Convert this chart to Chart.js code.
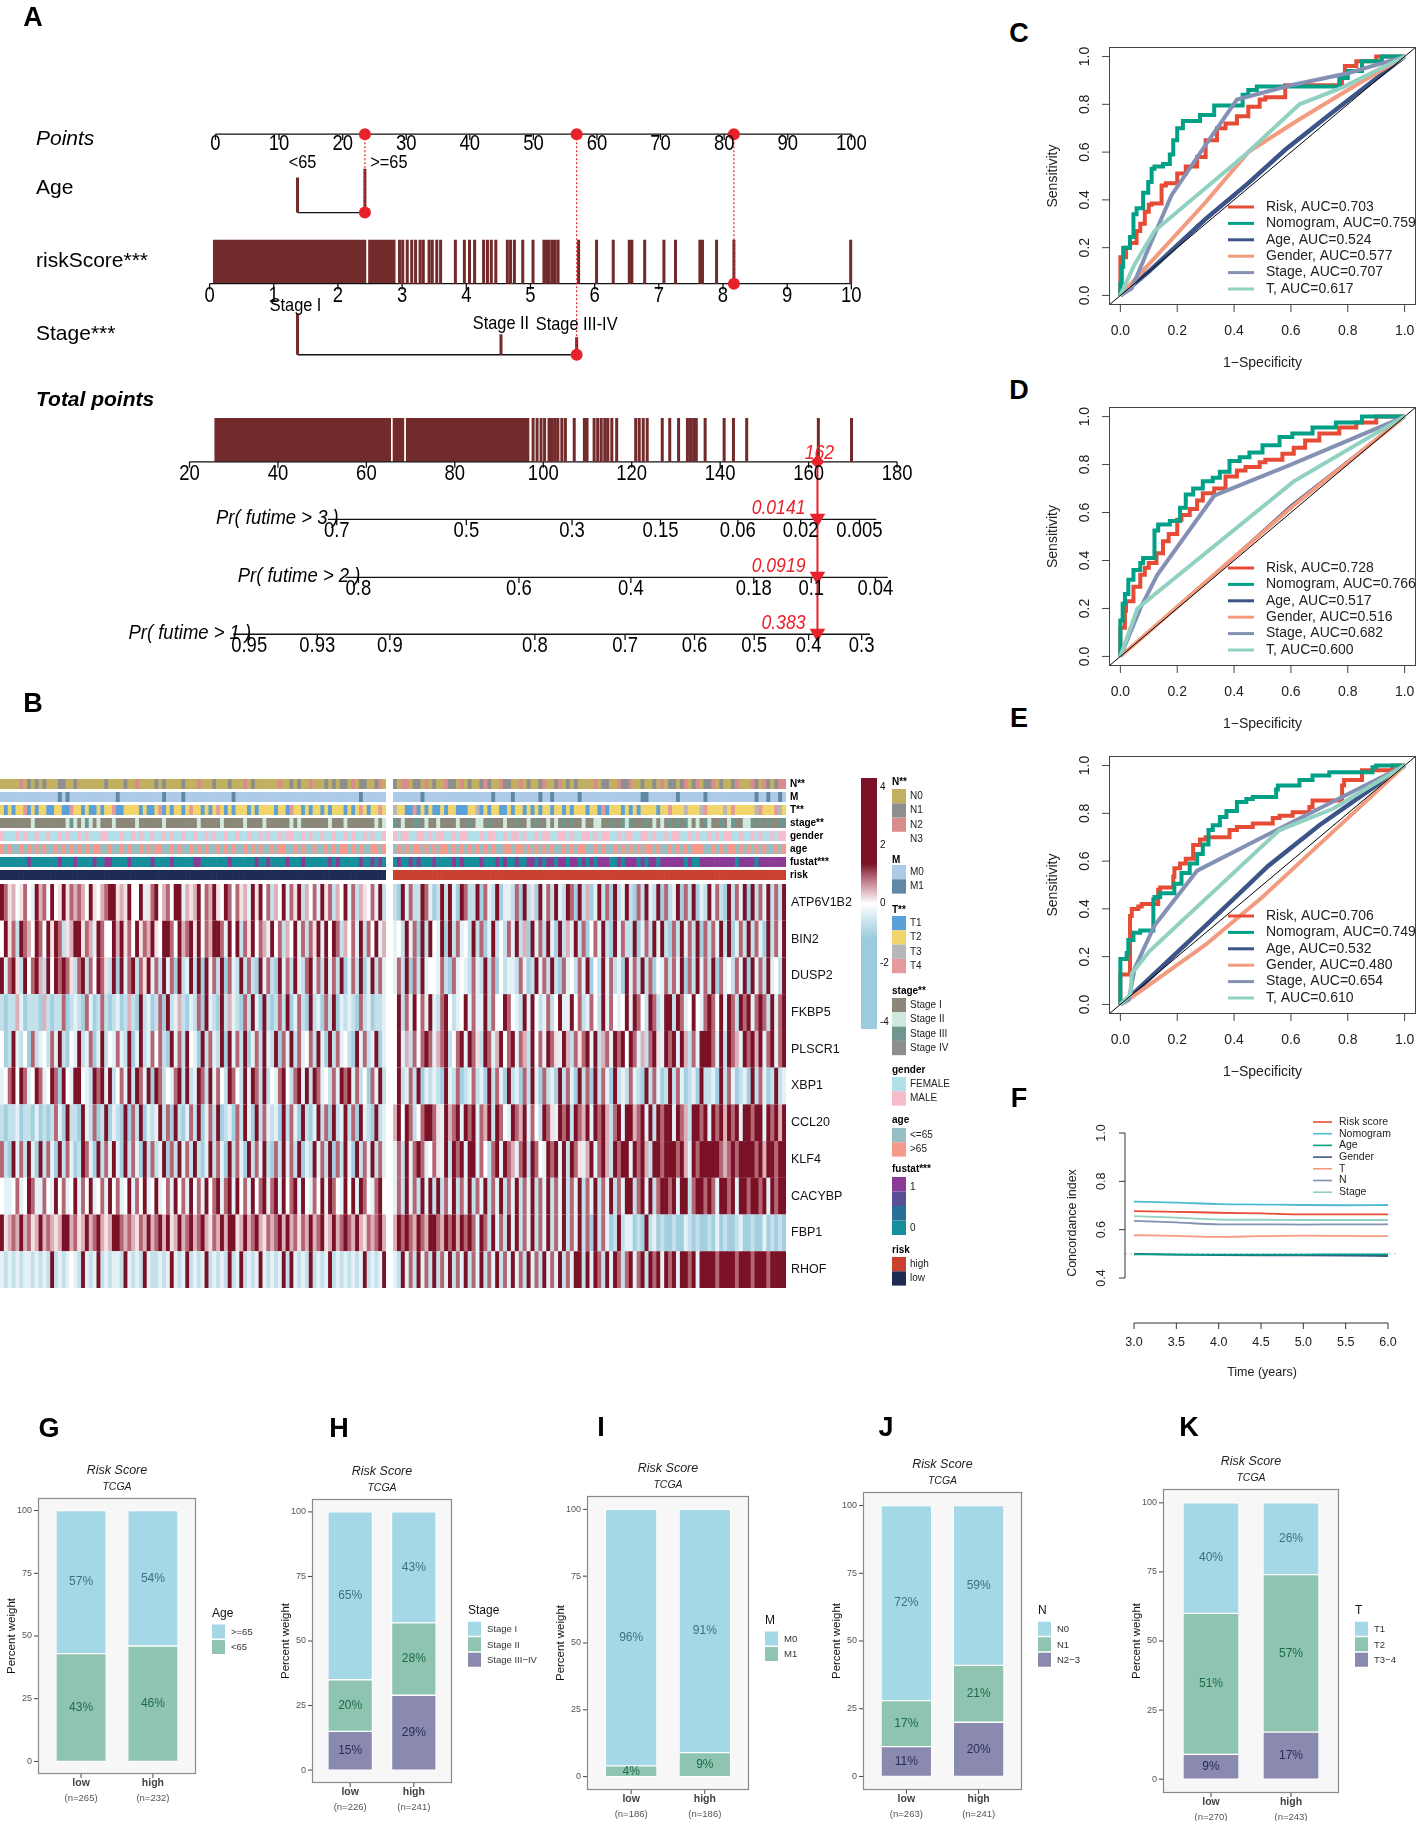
<!DOCTYPE html>
<html>
<head>
<meta charset="utf-8">
<title>Nomogram, risk heatmap, ROC and clinical composition</title>
<script src="https://cdn.jsdelivr.net/npm/chart.js@4.4.1/dist/chart.umd.min.js"></script>
<style>
  html, body { margin: 0; padding: 0; background: #fff; }
  #page { position: relative; width: 1417px; height: 1821px; overflow: hidden; background: #fff; }
  #page canvas { position: absolute; }
  .panel-letter { position: absolute; font: bold 27px "Liberation Sans", Arial, sans-serif; color: #000; transform: translate(-50%, -50%); }
</style>
</head>
<body>
<div id="page"></div>
<script>
// ── PANEL A : NOMOGRAM DATA ─────────────────────────
const pointsTicks = [0, 10, 20, 30, 40, 50, 60, 70, 80, 90, 100];
const ageLabels = ["<65", ">=65"];
const agePoints = [12.9, 23.5];
const riskScoreTicks = [0, 1, 2, 3, 4, 5, 6, 7, 8, 9, 10];
const riskScoreDense = [[0.05, 2.445], [2.47, 2.90]];
const riskScoreMarks = [2.96, 3.01, 3.08, 3.15, 3.21, 3.28, 3.33, 3.42, 3.47, 3.54, 3.60, 3.83, 3.97, 4.05, 4.13, 4.27, 4.33, 4.39, 4.46, 4.64, 4.69, 4.75, 4.88, 5.04, 5.21, 5.25, 5.29, 5.34, 5.38, 5.43, 5.75, 6.03, 6.29, 6.54, 6.58, 6.78, 7.08, 7.26, 7.64, 7.68, 7.90, 8.17, 9.99];
const stageLabels = ["Stage I", "Stage II", "Stage III-IV"];
const stagePoints = [12.9, 44.9, 56.8];
const totalTicks = [20, 40, 60, 80, 100, 120, 140, 160, 180];
const totalDense = [[25.6, 65.6], [65.9, 68.6], [68.9, 96.9]];
const totalMarks = [97.7, 98.6, 99.5, 100.3, 101.3, 101.9, 102.6, 103.3, 104.2, 105.0, 107.0, 109.3, 109.9, 111.5, 112.3, 113.1, 113.9, 114.6, 115.5, 116.6, 120.9, 121.7, 122.6, 123.5, 126.9, 128.6, 130.6, 132.6, 133.3, 134.0, 134.6, 136.6, 140.9, 143.0, 146.0, 162.2, 169.7];
const pr3Labels = ["0.7", "0.5", "0.3", "0.15", "0.06", "0.02", "0.005"];
const pr3Total = [53.3, 82.6, 106.5, 126.5, 144.0, 158.2, 171.5];
const pr3Range = [51.3, 175.3];
const pr2Labels = ["0.8", "0.6", "0.4", "0.18", "0.1", "0.04"];
const pr2Total = [58.2, 94.5, 119.8, 147.6, 160.6, 175.1];
const pr2Range = [55.3, 177.9];
const pr1Labels = ["0.95", "0.93", "0.9", "0.8", "0.7", "0.6", "0.5", "0.4", "0.3"];
const pr1Total = [33.5, 48.9, 65.3, 98.1, 118.5, 134.2, 147.7, 160.0, 172.0];
const pr1Range = [29.9, 173.9];
const prTitles = ["Pr( futime > 3 )", "Pr( futime > 2 )", "Pr( futime > 1 )"];
const patientAge = 1;
const patientRiskScore = 8.17;
const patientStage = 2;
const patientTotal = 162;
const patientPr = ["0.0141", "0.0919", "0.383"];

// ── PANEL B : HEATMAP DATA (0 = deep blue ... 4 = white ... 8 = dark red) ──
const genes = ["ATP6V1B2", "BIN2", "DUSP2", "FKBP5", "PLSCR1", "XBP1", "CCL20", "KLF4", "CACYBP", "FBP1", "RHOF"];
const exprLow = [
  ["8756457438","6748458576","7648546788","5658448357","8467488365","6847685487","4756385847","2648375826","4738572648","3726547382"],
  ["4857287648","7485872568","8576387448","6857485768","5488748678","5847688738","4827584763","8472648372","7583848726","4738274836"],
  ["8378528478","6284878752","7827487528","1837827583","7283718238","2818372817","3282721837","2183728327","8372837281","3728138273"],
  ["2122631222","1621227123","2173127212","3126218231","2718236213","2718321826","3217283182","1272813721","8231728132","3217231223"],
  ["4128324172","3427382143","8237138243","7328138237","4721837284","3182732818","3728137283","2817382734","7283182734","2183723813"],
  ["3478487348","7348718438","8432878382","4738287381","8724378282","3872837428","7428387282","4378427838","2873427387","8372417382"],
  ["2122312213","1212731822","1832712813","2181728132","3827182137","2813728123","1728318273","2318273182","1382718238","2718321823"],
  ["7218372831","8273182731","2873182738","3182731827","2381728372","8213827318","2731827382","1728372813","2837281728","3182738273"],
  ["4334734873","3743847348","3748347384","7348374834","8347384738","4738478378","3847384783","7838478384","3748387438","4838743784"],
  ["8567686756","8676568867","5686786568","8767657686","7868568678","6786576868","8568678657","6786867576","8678568678","7686576786"],
  ["3232323323","2328232343","2832382323","3283232832","2323832382","3238232328","2382323832","3238283232","8232382323","2323823238"]
].map(r => r.join(""));
const exprHigh = [
  ["2183722873","1282831872","2817328133","2718251837","2832871826","1382718238","2172832817","2381728132","8372182738","1827382728"],
  ["3428371828","4381827342","8271382427","3826183728","3182638271","4738218372","2813728382","1728372817","2738281372","8273182738"],
  ["3728172834","4372173432","7328271423","3273128372","8217342738","1428372318","3728271437","2738172837","2817342738","1837283428"],
  ["4827384738","3278423483","7338274487","4328384237","2483384723","7428374348","3874287238","8287348437","8748387287","8378728378"],
  ["4836274787","3678247838","7528736847","8376284738","7538627578","3826738784","8736278538","7838627388","8738287638","7868378378"],
  ["4823728132","3218327123","7231827318","2317283172","3182731827","1827318232","7321827312","8273123182","2318273123","1827312823"],
  ["6848724788","7538678387","8376828743","8768374287","5387828768","3878627838","8678382878","8387628878","3878687838","8788387868"],
  ["3728378734","7538287838","8374278387","6378287438","7838287536","8378628788","3878628878","8878638788","8887678788","8878688788"],
  ["3728372838","2827382738","2738273827","3827382738","2738273827","3827382738","8278382788","7838827887","8738878388","7887838788"],
  ["6878768768","8768786878","7387283728","3827382738","2738273827","1827312823","3121823121","1211321211","2131211231","1211312121"],
  ["3283728372","8273827382","7382738273","8372837283","7382738828","3872838727","8378287838","7838878388","8878888788","8788878888"]
].map(r => r.join(""));
const annN = [
  ["0000020101","0100011001","0000000100","0010020000","1010000100","0200010001","0002010000","0020010100","2000101011","0201100120"],
  ["1022011020","1002110201","0012100211","0020100120","0120101000","0201100211","2001001020","1101201201","1201001200","0210210122"]
].map(r => r.join(""));
const annM = [
  ["0000000000","0000010100","0000000000","1000000000","0010000100","0000000000","1000000000","0000000000","0000000000","0001000000"],
  ["0000000100","0000000000","0000010000","1000000100","1000000100","0000000000","0001100000","0010000001","0000000000","0010010010"]
].map(r => r.join(""));
const annT = [
  ["2121224121","2211221142","2121121224","1122221211","2412122124","2212124212","1222121222","2122142212","1221212221","2124212242"],
  ["3221141212","1121221112","2312122112","1221212122","1221212221","2214122212","1212222122","4222322234","2222324222","2234222432"]
].map(r => r.join(""));
const annStage = [
  ["1111111121","1111111232","1232121112","1111121111","1121111111","1211111211","1112111121","1111121211","1111121112","1111111212"],
  ["3121133121","1211112113","1221311121","1311213112","1213131121","1221131132","3111312121","3131321213","2113123112","2313131133"]
].map(r => r.join(""));
const annGender = [
  ["MFFFMFMFFM","FFMFFMFMFF","MFMFFFMMFF","FMFFMFMFFM","FFMFMFFMFF","MFFMFMFFMF","FMFFMFFMFM","FFMFMMFFMF","MFFMFFMFFM","FMFFMFMFFM"],
  ["MFMMFFMMFM","FMMFFMFMMF","FFMFMMFFMF","MMFMFFMFMM","FFMMFMFFMM","FMFMMFFMFM","MFFMMFMFFM","FMMFFMFMFF","MFMFMMFFMF","FMFMFFMFMM"]
].map(r => r.join(""));
const annAge = [
  ["OYOYYOYOYO","YOYYOYOYOY","OYOYOOYYOY","YOYOYYOYOY","OOYYOYOYYO","YOYOYYOYOY","OYYOYOYOYY","OYOOYYOYOY","YOYYOYOYOO","YOYOYYOOYO"],
  ["YOYOYOOYOY","OYOOYOYOYO","YOYOYOYYOO","YOOYOYOYOY","OYYOYOYOOY","YOYOYYOYOY","OYOYOOYOYY","OYOYOYOOOY","YOYOYOOYOY","OYOYOYYOYO"]
].map(r => r.join(""));
const annFustat = [
  ["0000000100","0000010001","0000100110","0001000001","0000100000","1100000001","0000001001","0000100010","0000010100","0001001010"],
  ["0100101000","1000010100","0010001010","0100110101","1011011010","1011100101","1101011011","1111010011","1111111011","1101111111"]
].map(r => r.join(""));

// ── PANELS C-E : ROC DATA ([1-specificity, sensitivity]) ──
const rocNames = ["Risk", "Nomogram", "Age", "Gender", "Stage", "T"];
const rocColors = ["#E64B35", "#00A087", "#3C5488", "#F39B7F", "#8491B4", "#91D1C2"];
const rocStepped = [true, true, false, false, false, false];
const rocAucC = [0.703, 0.759, 0.524, 0.577, 0.707, 0.617];
const rocAucD = [0.728, 0.766, 0.517, 0.516, 0.682, 0.600];
const rocAucE = [0.706, 0.749, 0.532, 0.480, 0.654, 0.610];
const rocC_risk = [[0,0],[0,0.06],[0.02,0.16],[0.034,0.2],[0.057,0.22],[0.07,0.27],[0.086,0.30],[0.1,0.35],[0.11,0.38],[0.145,0.385],[0.16,0.46],[0.2,0.47],[0.23,0.51],[0.27,0.54],[0.30,0.58],[0.34,0.65],[0.37,0.70],[0.41,0.72],[0.45,0.75],[0.49,0.79],[0.51,0.82],[0.58,0.83],[0.595,0.88],[0.78,0.88],[0.79,0.92],[0.83,0.96],[0.9,0.98],[0.99,1.0],[1,1]];
const rocC_nomo = [[0,0],[0.005,0.05],[0.01,0.12],[0.016,0.2],[0.034,0.2],[0.046,0.245],[0.057,0.34],[0.08,0.365],[0.098,0.43],[0.11,0.475],[0.12,0.53],[0.15,0.54],[0.174,0.55],[0.186,0.59],[0.2,0.65],[0.22,0.7],[0.28,0.73],[0.33,0.755],[0.344,0.795],[0.43,0.795],[0.45,0.84],[0.48,0.86],[0.55,0.875],[0.77,0.875],[0.8,0.91],[0.85,0.94],[0.92,0.98],[0.96,1.0],[1,1]];
const rocC_age = [[0,0],[0.1,0.1],[0.3,0.32],[0.45,0.47],[0.58,0.61],[0.75,0.77],[1,1]];
const rocC_gender = [[0,0],[0.1,0.13],[0.3,0.39],[0.45,0.6],[0.62,0.73],[0.8,0.86],[1,1]];
const rocC_stage = [[0,0],[0.04,0.03],[0.1,0.2],[0.18,0.42],[0.3,0.63],[0.41,0.82],[0.6,0.88],[0.8,0.93],[1,1]];
const rocC_t = [[0,0],[0.05,0.13],[0.12,0.27],[0.44,0.59],[0.63,0.8],[0.78,0.87],[1,1]];
const rocD_risk = [[0,0],[0,0.05],[0.016,0.12],[0.02,0.19],[0.046,0.23],[0.07,0.29],[0.086,0.34],[0.1,0.37],[0.127,0.39],[0.15,0.43],[0.17,0.48],[0.2,0.51],[0.215,0.57],[0.244,0.59],[0.27,0.615],[0.29,0.65],[0.33,0.68],[0.37,0.70],[0.41,0.75],[0.44,0.775],[0.49,0.79],[0.51,0.81],[0.57,0.82],[0.61,0.845],[0.65,0.87],[0.70,0.9],[0.77,0.93],[0.83,0.955],[0.9,0.975],[0.97,1.0],[1,1]];
const rocD_nomo = [[0,0],[0,0.05],[0.008,0.15],[0.016,0.22],[0.028,0.26],[0.046,0.32],[0.07,0.36],[0.08,0.39],[0.12,0.41],[0.133,0.525],[0.174,0.55],[0.21,0.565],[0.23,0.62],[0.256,0.675],[0.29,0.70],[0.325,0.73],[0.35,0.745],[0.384,0.77],[0.42,0.815],[0.454,0.83],[0.5,0.85],[0.56,0.88],[0.605,0.915],[0.676,0.93],[0.758,0.955],[0.85,0.975],[0.945,1.0],[1,1]];
const rocD_age = [[0,0],[0.3,0.31],[0.6,0.63],[1,1]];
const rocD_gender = [[0,0],[0.3,0.31],[0.6,0.62],[1,1]];
const rocD_stage = [[0,0],[0.07,0.2],[0.13,0.34],[0.33,0.67],[0.6,0.8],[1,1]];
const rocD_t = [[0,0],[0.06,0.2],[0.61,0.73],[1,1]];
const rocE_risk = [[0,0],[0,0.035],[0.005,0.125],[0.034,0.125],[0.04,0.37],[0.063,0.40],[0.075,0.41],[0.133,0.42],[0.14,0.48],[0.186,0.49],[0.19,0.535],[0.21,0.57],[0.23,0.59],[0.256,0.61],[0.28,0.667],[0.30,0.69],[0.384,0.70],[0.41,0.73],[0.466,0.743],[0.536,0.757],[0.56,0.78],[0.606,0.79],[0.665,0.805],[0.676,0.826],[0.78,0.854],[0.787,0.917],[0.85,0.94],[0.957,0.98],[1,1]];
const rocE_nomo = [[0,0],[0,0.174],[0.022,0.19],[0.028,0.215],[0.046,0.27],[0.07,0.30],[0.116,0.31],[0.12,0.44],[0.14,0.45],[0.19,0.465],[0.215,0.505],[0.244,0.55],[0.27,0.59],[0.29,0.63],[0.31,0.67],[0.325,0.73],[0.35,0.75],[0.373,0.785],[0.41,0.81],[0.443,0.847],[0.466,0.86],[0.548,0.868],[0.554,0.90],[0.63,0.917],[0.676,0.94],[0.735,0.958],[0.805,0.972],[0.887,0.972],[0.9,0.993],[0.957,1.0],[1,1]];
const rocE_age = [[0,0],[0.05,0.05],[0.3,0.33],[0.52,0.58],[0.7,0.75],[1,1]];
const rocE_gender = [[0,0],[0.04,0.03],[0.3,0.25],[0.5,0.45],[0.8,0.78],[1,1]];
const rocE_stage = [[0,0],[0.03,0.02],[0.05,0.15],[0.12,0.33],[0.27,0.56],[0.55,0.73],[1,1]];
const rocE_t = [[0,0],[0.035,0.04],[0.04,0.13],[0.1,0.22],[0.56,0.73],[0.75,0.82],[1,1]];

// ── PANEL F : CONCORDANCE INDEX DATA ──
const cTimes = [3.0, 3.5, 4.0, 4.5, 5.0, 5.5, 6.0];
const cNames = ["Risk score", "Nomogram", "Age", "Gender", "T", "N", "Stage"];
const cColors = ["#E64B35", "#4DBBD5", "#00A087", "#3C5488", "#F39B7F", "#8491B4", "#91D1C2"];
const cRisk = [0.677, 0.674, 0.670, 0.667, 0.663, 0.663, 0.663];
const cNomogram = [0.716, 0.712, 0.706, 0.704, 0.702, 0.701, 0.702];
const cAge = [0.498, 0.497, 0.497, 0.497, 0.497, 0.498, 0.498];
const cGender = [0.500, 0.497, 0.495, 0.494, 0.494, 0.493, 0.491];
const cT = [0.577, 0.574, 0.570, 0.573, 0.575, 0.574, 0.573];
const cN = [0.636, 0.630, 0.622, 0.622, 0.621, 0.622, 0.622];
const cStage = [0.656, 0.650, 0.642, 0.641, 0.640, 0.640, 0.640];

// ── PANELS G-K : RISK GROUP COMPOSITION (% per level, [low, high]) ──
const riskGroups = ["low", "high"];
const ageLevelsG = [">=65", "<65"];
const ageShareG = [[57, 54], [43, 46]];
const ageCountG = [265, 232];
const stageLevelsH = ["Stage I", "Stage II", "Stage III\u2212IV"];
const stageShareH = [[65, 43], [20, 28], [15, 29]];
const stageCountH = [226, 241];
const mLevelsI = ["M0", "M1"];
const mShareI = [[96, 91], [4, 9]];
const mCountI = [186, 186];
const nLevelsJ = ["N0", "N1", "N2\u22123"];
const nShareJ = [[72, 59], [17, 21], [11, 20]];
const nCountJ = [263, 241];
const tLevelsK = ["T1", "T2", "T3\u22124"];
const tShareK = [[40, 26], [51, 57], [9, 17]];
const tCountK = [270, 243];

// ── HELPERS ─────────────────────────────────
const SANS = '"Liberation Sans", Arial, sans-serif';
const page = document.getElementById("page");

function makeCanvas(left, top, w, h) {
  const c = document.createElement("canvas");
  c.width = w; c.height = h;
  c.style.left = left + "px"; c.style.top = top + "px";
  c.style.width = w + "px"; c.style.height = h + "px";
  page.appendChild(c);
  return c;
}

function addLetter(ch, x, y) {
  const d = document.createElement("div");
  d.className = "panel-letter";
  d.textContent = ch;
  d.style.left = x + "px"; d.style.top = y + "px";
  page.appendChild(d);
}

// sx < 1 squeezes the glyphs horizontally (narrow R nomogram font)
function text(ctx, s, x, y, font, color, align, baseline, angle, sx) {
  ctx.save();
  ctx.font = font;
  ctx.fillStyle = color || "#000";
  ctx.textAlign = align || "left";
  ctx.textBaseline = baseline || "middle";
  ctx.translate(x, y);
  if (angle) ctx.rotate(angle);
  if (sx) ctx.scale(sx, 1);
  ctx.fillText(s, 0, 0);
  ctx.restore();
}

function line(ctx, x0, y0, x1, y1, color, width, dash) {
  ctx.save();
  ctx.strokeStyle = color; ctx.lineWidth = width || 1;
  if (dash) ctx.setLineDash(dash);
  ctx.beginPath(); ctx.moveTo(x0, y0); ctx.lineTo(x1, y1); ctx.stroke();
  ctx.restore();
}

function baseOptions(xMin, xMax, yMin, yMax, padding, reverseY) {
  return {
    responsive: false,
    animation: false,
    events: [],
    layout: { padding: padding },
    plugins: { legend: { display: false }, tooltip: { enabled: false } },
    scales: {
      x: { type: "linear", display: false, min: xMin, max: xMax },
      y: { type: "linear", display: false, min: yMin, max: yMax, reverse: !!reverseY }
    }
  };
}

// ── PANEL A : NOMOGRAM ─────────────────────────
const PT_ZERO_PX = 210.5, PX_PER_POINT = 6.482;
const rsToPoints = rs => -0.93 + 10.093 * rs;
const totalToPoints = t => 0.6955 * t - 18.0;
const ROW = { points: 128.5, ageTicks: [173, 164], ageLine: 209, rsTop: 237, rsAxis: 282,
  stageTicks: [313, 334, 337], stageLine: 355, totTop: 420, totAxis: 465, pr: [524, 583.5, 642] };
const MAROON = "#722a2b", RED = "#e8222a";

function buildNomogram() {
  const W = 945, H = 690;
  const canvas = makeCanvas(0, 0, W, H);
  const xMin = -PT_ZERO_PX / PX_PER_POINT;
  const xMax = xMin + W / PX_PER_POINT;
  const prScales = [
    { labels: pr3Labels, at: pr3Total, range: pr3Range },
    { labels: pr2Labels, at: pr2Total, range: pr2Range },
    { labels: pr1Labels, at: pr1Total, range: pr1Range }
  ];

  const axisPts = [], maroonPts = [], dashPts = [];
  const seg = (arr, x0, y0, x1, y1) => { arr.push({ x: x0, y: y0 }, { x: x1, y: y1 }, { x: x1, y: null }); };

  seg(axisPts, 0, ROW.points, 100, ROW.points);
  pointsTicks.forEach(p => seg(axisPts, p, ROW.points, p, ROW.points + 6));
  seg(axisPts, agePoints[0], ROW.ageLine, agePoints[1], ROW.ageLine);
  agePoints.forEach((p, i) => seg(maroonPts, p, ROW.ageTicks[i], p, ROW.ageLine));
  seg(axisPts, rsToPoints(0), ROW.rsAxis, rsToPoints(10), ROW.rsAxis);
  riskScoreTicks.forEach(v => seg(axisPts, rsToPoints(v), ROW.rsAxis, rsToPoints(v), ROW.rsAxis + 6));
  riskScoreMarks.forEach(v => seg(maroonPts, rsToPoints(v), ROW.rsTop, rsToPoints(v), ROW.rsAxis));
  seg(axisPts, stagePoints[0], ROW.stageLine, stagePoints[2], ROW.stageLine);
  stagePoints.forEach((p, i) => seg(maroonPts, p, ROW.stageTicks[i], p, ROW.stageLine));
  seg(axisPts, totalToPoints(20), ROW.totAxis, totalToPoints(180), ROW.totAxis);
  totalTicks.forEach(t => seg(axisPts, totalToPoints(t), ROW.totAxis, totalToPoints(t), ROW.totAxis + 6));
  totalMarks.forEach(t => seg(maroonPts, totalToPoints(t), ROW.totTop, totalToPoints(t), ROW.totAxis));
  prScales.forEach((s, k) => {
    seg(axisPts, totalToPoints(s.range[0]), ROW.pr[k], totalToPoints(s.range[1]), ROW.pr[k]);
    s.at.forEach(t => seg(axisPts, totalToPoints(t), ROW.pr[k], totalToPoints(t), ROW.pr[k] + 6));
  });

  const chosen = [agePoints[patientAge], rsToPoints(patientRiskScore), stagePoints[patientStage]];
  const chosenY = [ROW.ageLine, ROW.rsAxis, ROW.stageLine];
  chosen.forEach((p, i) => seg(dashPts, p, ROW.points, p, chosenY[i]));
  const dots = [];
  chosen.forEach((p, i) => { dots.push({ x: p, y: ROW.points }, { x: p, y: chosenY[i] }); });
  const tx = totalToPoints(patientTotal);

  const blocks = [];
  riskScoreDense.forEach(b => blocks.push({
    data: [{ x: rsToPoints(b[0]), y: ROW.rsTop }, { x: rsToPoints(b[1]), y: ROW.rsTop }],
    borderWidth: 0, pointRadius: 0, backgroundColor: MAROON, fill: { value: ROW.rsAxis }, order: 6
  }));
  totalDense.forEach(b => blocks.push({
    data: [{ x: totalToPoints(b[0]), y: ROW.totTop }, { x: totalToPoints(b[1]), y: ROW.totTop }],
    borderWidth: 0, pointRadius: 0, backgroundColor: MAROON, fill: { value: ROW.totAxis }, order: 6
  }));

  const nomoText = {
    id: "nomoText",
    afterDraw(chart) {
      const ctx = chart.ctx, xs = chart.scales.x, ys = chart.scales.y;
      const X = p => xs.getPixelForValue(p), Y = v => ys.getPixelForValue(v);
      const rowFont = "21px " + SANS, tickFont = "22px " + SANS, NX = 0.84;
      text(ctx, "Points", 36, 139, "italic " + rowFont);
      text(ctx, "Age", 36, 188, rowFont);
      text(ctx, "riskScore***", 36, 261, rowFont);
      text(ctx, "Stage***", 36, 334, rowFont);
      text(ctx, "Total points", 36, 400, "italic bold 21px " + SANS);

      pointsTicks.forEach(p => text(ctx, String(p), X(p), Y(ROW.points) - 1, tickFont, "#000", "center", "top", 0, NX));
      const ageDx = [5, 24];
      ageLabels.forEach((s, i) => text(ctx, s, X(agePoints[i]) + ageDx[i], 163, "19px " + SANS, "#000", "center", "middle", 0, 0.86));
      riskScoreTicks.forEach(v => text(ctx, String(v), X(rsToPoints(v)), Y(ROW.rsAxis) + 1, tickFont, "#000", "center", "top", 0, NX));
      const stageDx = [-2, 0, 0], stageY = [306, 324, 325];
      stageLabels.forEach((s, i) => text(ctx, s, X(stagePoints[i]) + stageDx[i], stageY[i], "19px " + SANS, "#000", "center", "middle", 0, 0.86));
      totalTicks.forEach(t => text(ctx, String(t), X(totalToPoints(t)), Y(ROW.totAxis) + 1, tickFont, "#000", "center", "top", 0, NX));
      prScales.forEach((s, k) => {
        const yk = Y(ROW.pr[k]);
        s.labels.forEach((lab, j) => text(ctx, lab, X(totalToPoints(s.at[j])), yk + 1, tickFont, "#000", "center", "top", 0, NX));
        text(ctx, prTitles[k], X(totalToPoints(s.at[0])) + 2, yk - 1, "italic 21px " + SANS, "#000", "right", "middle", 0, 0.88);
        text(ctx, patientPr[k], X(tx) - 12, yk - 11, "italic 20px " + SANS, RED, "right", "middle", 0, 0.88);
      });
      text(ctx, String(patientTotal), X(tx) + 2, Y(ROW.totAxis) - 8, "italic 20px " + SANS, RED, "center", "middle", 0, 0.88);
    }
  };

  new Chart(canvas, {
    type: "line",
    data: {
      datasets: [
        { data: axisPts, borderColor: "#111", borderWidth: 1.3, pointRadius: 0, order: 5 },
        { data: maroonPts, borderColor: MAROON, borderWidth: 3, pointRadius: 0, order: 4 },
        ...blocks,
        { data: dashPts, borderColor: RED, borderWidth: 1.2, borderDash: [2, 2], pointRadius: 0, order: 3 },
        { data: [{ x: tx, y: ROW.totAxis }, { x: tx, y: ROW.pr[2] }], borderColor: RED, borderWidth: 2, pointRadius: 0, order: 2 },
        { data: dots, showLine: false, pointRadius: 6, pointBackgroundColor: RED, pointBorderColor: RED, pointBorderWidth: 0, order: 1 },
        { data: ROW.pr.map(y => ({ x: tx, y: y - 1 })), showLine: false, pointStyle: "triangle", rotation: 180,
          pointRadius: 9, pointBackgroundColor: RED, pointBorderColor: RED, pointBorderWidth: 0, order: 0 },
        { data: [{ x: tx, y: ROW.totAxis }], showLine: false, pointStyle: "rectRot", pointRadius: 7,
          pointBackgroundColor: RED, pointBorderColor: RED, pointBorderWidth: 0, order: 0 }
      ]
    },
    options: baseOptions(xMin, xMax, 0, H, 0, true),
    plugins: [nomoText]
  });
}

// ── PANEL B : HEATMAP ───────────────────────────
const exprColors = ["#8fc3d8", "#a4cfe0", "#c4e0eb", "#e4f1f6", "#ffffff", "#f3e1e4", "#dcb0b8", "#b56675", "#7a1126"];
const nColors = { "0": "#c2b062", "1": "#8e8e8e", "2": "#d98c8c", "3": "#ffffff" };
const mColors = { "0": "#aecae9", "1": "#5f87a6" };
const tColors = { "1": "#5aa1d9", "2": "#f2d56a", "3": "#b7b7b7", "4": "#e49a9a" };
const stageColors = { "1": "#8b887a", "2": "#cfe9df", "3": "#709690", "4": "#8e8e8e" };
const genderColors = { F: "#b1e0e9", M: "#f5bccc" };
const ageColors = { Y: "#97bfc3", O: "#f6998a" };
const fustatColors = { "0": "#178f9b", "1": "#8b3a96" };
const riskColors = ["#1f2b52", "#c9402f"];

function buildHeatmap() {
  const L = 0, T = 770, W = 990, H = 535;
  const canvas = makeCanvas(L, T, W, H);
  const PXU = 3.86;                       // px per sample column
  const LOW_W = 1, HIGH_X0 = 393 / PXU, HIGH_W = (786 - 393) / 100 / PXU;
  const annot = [
    { name: "N**", data: annN, colors: nColors },
    { name: "M", data: annM, colors: mColors },
    { name: "T**", data: annT, colors: tColors },
    { name: "stage**", data: annStage, colors: stageColors },
    { name: "gender", data: annGender, colors: genderColors },
    { name: "age", data: annAge, colors: ageColors },
    { name: "fustat***", data: annFustat, colors: fustatColors },
    { name: "risk", data: null, colors: null }
  ];
  const ANN_STEP = 13, ANN_H = 10, GENE_TOP = 105, GENE_H = (509 - 105) / genes.length;

  const heatPlugin = {
    id: "heat",
    afterDraw(chart) {
      const ctx = chart.ctx, xs = chart.scales.x, ys = chart.scales.y;
      ctx.save();
      ctx.translate(-L, -T);
      const X = v => xs.getPixelForValue(v) + L, Y = v => ys.getPixelForValue(v) + T;
      const span = (b, i) => b === 0 ? [i * LOW_W, (i + 1) * LOW_W] : [HIGH_X0 + i * HIGH_W, HIGH_X0 + (i + 1) * HIGH_W];
      function row(colorAt, counts, y0, y1) {
        for (let b = 0; b < 2; b++) {
          for (let i = 0; i < counts[b]; i++) {
            const [a, c] = span(b, i);
            const px0 = X(a), px1 = X(c);
            ctx.fillStyle = colorAt(b, i);
            ctx.fillRect(px0, Y(y0), px1 - px0 + (i < counts[b] - 1 ? 0.6 : 0), Y(y1) - Y(y0));
          }
        }
      }
      annot.forEach((a, k) => {
        const y0 = k * ANN_STEP, y1 = y0 + ANN_H;
        if (a.data) row((b, i) => a.colors[a.data[b][i]], [a.data[0].length, a.data[1].length], y0, y1);
        else row(b => riskColors[b], [100, 100], y0, y1);
        text(ctx, a.name, 790, Y(y0 + ANN_H / 2), "bold 10px " + SANS, "#000");
      });
      genes.forEach((g, k) => {
        const y0 = GENE_TOP + k * GENE_H, y1 = y0 + GENE_H;
        row((b, i) => exprColors[+(b === 0 ? exprLow[k][i] : exprHigh[k][i])], [exprLow[k].length, exprHigh[k].length], y0, y1);
        text(ctx, g, 791, Y(y0 + GENE_H / 2), "12.5px " + SANS, "#111");
      });

      // colour bar
      const grad = ctx.createLinearGradient(0, 778, 0, 1029);
      grad.addColorStop(0, "#7a1126"); grad.addColorStop(0.34, "#7a1126");
      grad.addColorStop(0.42, "#c98a96"); grad.addColorStop(0.5, "#ffffff");
      grad.addColorStop(0.58, "#c4e0eb"); grad.addColorStop(0.64, "#9ccbdd"); grad.addColorStop(1, "#9ccbdd");
      ctx.fillStyle = grad; ctx.fillRect(861, 778, 16, 251);
      [["4", 787], ["2", 845], ["0", 903], ["-2", 963], ["-4", 1022]].forEach(t => text(ctx, t[0], 880, t[1], "10px " + SANS, "#111"));

      // annotation legend
      const SW_X = 892, SW_W = 14, SW_H = 14.3;
      function group(title, ty, items, y0) {
        text(ctx, title, SW_X, ty, "bold 10px " + SANS, "#000");
        items.forEach((it, i) => {
          ctx.fillStyle = it[1]; ctx.fillRect(SW_X, y0 + i * SW_H, SW_W, SW_H);
          text(ctx, it[0], SW_X + 18, y0 + i * SW_H + SW_H / 2, "10px " + SANS, "#222");
        });
      }
      group("N**", 782, [["N0", nColors["0"]], ["N1", nColors["1"]], ["N2", nColors["2"]], ["N3", nColors["3"]]], 789);
      group("M", 860, [["M0", mColors["0"]], ["M1", mColors["1"]]], 865);
      group("T**", 910, [["T1", tColors["1"]], ["T2", tColors["2"]], ["T3", tColors["3"]], ["T4", tColors["4"]]], 916);
      group("stage**", 991, [["Stage I", stageColors["1"]], ["Stage II", stageColors["2"]], ["Stage III", stageColors["3"]], ["Stage IV", stageColors["4"]]], 998);
      group("gender", 1070, [["FEMALE", genderColors.F], ["MALE", genderColors.M]], 1077);
      group("age", 1120, [["<=65", ageColors.Y], [">65", ageColors.O]], 1128);
      text(ctx, "fustat***", SW_X, 1169, "bold 10px " + SANS, "#000");
      ["#8b3a96", "#5a4e96", "#2a6f98", "#178f9b"].forEach((c, i) => { ctx.fillStyle = c; ctx.fillRect(SW_X, 1177 + i * 14.5, SW_W, 14.5); });
      text(ctx, "1", SW_X + 18, 1187, "10px " + SANS, "#222");
      text(ctx, "0", SW_X + 18, 1228, "10px " + SANS, "#222");
      group("risk", 1250, [["high", riskColors[1]], ["low", riskColors[0]]], 1257);
      ctx.restore();
    }
  };

  new Chart(canvas, {
    type: "line",
    data: { datasets: [] },
    options: baseOptions(0, 786 / PXU, 0, 509, { left: 0, right: W - 786, top: 779 - T, bottom: T + H - 1288 }, true),
    plugins: [heatPlugin]
  });
}

// ── PANELS C-E : ROC CURVES ───────────────────────
function buildRoc(top, height, boxTop, boxBottom, curves, aucs, widths) {
  const L = 1040, W = 377;
  const canvas = makeCanvas(L, top, W, height);
  const box = { x0: 1109, x1: 1416, y0: boxTop, y1: boxBottom };
  const datasets = rocNames.map((name, i) => ({
    data: curves[i].map(p => ({ x: p[0], y: p[1] })),
    borderColor: rocColors[i], borderWidth: widths[i], pointRadius: 0,
    stepped: rocStepped[i] ? "after" : false, order: 10 - i
  }));
  datasets.push({ data: [{ x: -0.04, y: -0.04 }, { x: 1.04, y: 1.04 }], borderColor: "#000", borderWidth: 1, pointRadius: 0, order: 0 });

  const rocAxes = {
    id: "rocAxes",
    afterDraw(chart) {
      const ctx = chart.ctx, xs = chart.scales.x, ys = chart.scales.y;
      ctx.save();
      ctx.translate(-L, -top);
      const X = v => xs.getPixelForValue(v) + L, Y = v => ys.getPixelForValue(v) + top;
      ctx.strokeStyle = "#444"; ctx.lineWidth = 1;
      ctx.strokeRect(box.x0 + 0.5, box.y0 + 0.5, box.x1 - box.x0 - 1, box.y1 - box.y0 - 1);
      const ticks = [0, 0.2, 0.4, 0.6, 0.8, 1.0];
      ticks.forEach(v => {
        line(ctx, X(v), box.y1, X(v), box.y1 + 7, "#444", 1);
        text(ctx, v.toFixed(1), X(v), box.y1 + 26, "14px " + SANS, "#222", "center");
        line(ctx, box.x0, Y(v), box.x0 - 7, Y(v), "#444", 1);
        text(ctx, v.toFixed(1), box.x0 - 24, Y(v), "14px " + SANS, "#222", "center", "middle", -Math.PI / 2);
      });
      text(ctx, "1\u2212Specificity", (box.x0 + box.x1) / 2, box.y1 + 58, "14px " + SANS, "#222", "center");
      text(ctx, "Sensitivity", box.x0 - 56, (box.y0 + box.y1) / 2, "14px " + SANS, "#222", "center", "middle", -Math.PI / 2);
      rocNames.forEach((n, i) => {
        const y = box.y1 - 16 - (rocNames.length - 1 - i) * 16.4;
        line(ctx, 1228, y, 1254, y, rocColors[i], 3);
        text(ctx, n + ", AUC=" + aucs[i].toFixed(3), 1266, y, "14px " + SANS, "#222");
      });
      ctx.restore();
    }
  };

  new Chart(canvas, {
    type: "line",
    data: { datasets },
    options: baseOptions(-0.04, 1.04, -0.04, 1.04,
      { left: box.x0 - L, right: L + W - box.x1, top: box.y0 - top, bottom: top + height - box.y1 }),
    plugins: [rocAxes]
  });
}

// ── PANEL F : CONCORDANCE INDEX ─────────────────
function buildConcordance() {
  const L = 1040, T = 1085, W = 377, H = 300;
  const canvas = makeCanvas(L, T, W, H);
  const area = { x0: 1134, x1: 1388, y0: 1133, y1: 1278 };
  const series = [cRisk, cNomogram, cAge, cGender, cT, cN, cStage];
  const datasets = series.map((s, i) => ({
    data: cTimes.map((t, j) => ({ x: t, y: s[j] })),
    borderColor: cColors[i], borderWidth: 1.8, pointRadius: 0, cubicInterpolationMode: "monotone"
  }));
  const cAxes = {
    id: "cAxes",
    beforeDatasetsDraw(chart) {
      const ctx = chart.ctx, ys = chart.scales.y;
      ctx.save(); ctx.translate(-L, -T);
      line(ctx, 1125, ys.getPixelForValue(0.5) + T, 1398, ys.getPixelForValue(0.5) + T, "#c8c8c8", 1.5, [1.5, 4]);
      ctx.restore();
    },
    afterDraw(chart) {
      const ctx = chart.ctx, xs = chart.scales.x, ys = chart.scales.y;
      ctx.save(); ctx.translate(-L, -T);
      const X = v => xs.getPixelForValue(v) + L, Y = v => ys.getPixelForValue(v) + T;
      const axisX = 1125, axisY = 1323;
      line(ctx, axisX, Y(1.0), axisX, Y(0.4), "#333", 1);
      [0.4, 0.6, 0.8, 1.0].forEach(v => {
        line(ctx, axisX - 6, Y(v), axisX, Y(v), "#333", 1);
        text(ctx, v.toFixed(1), 1102, Y(v), "12.5px " + SANS, "#222", "center", "middle", -Math.PI / 2);
      });
      text(ctx, "Concordance index", 1073, 1223, "12.5px " + SANS, "#222", "center", "middle", -Math.PI / 2);
      line(ctx, X(3), axisY, X(6), axisY, "#333", 1);
      cTimes.forEach(v => {
        line(ctx, X(v), axisY, X(v), axisY + 6, "#333", 1);
        text(ctx, v.toFixed(1), X(v), 1343, "12.5px " + SANS, "#222", "center");
      });
      text(ctx, "Time (years)", 1262, 1373, "12.5px " + SANS, "#222", "center");
      cNames.forEach((n, i) => {
        const y = 1122 + i * 11.7;
        line(ctx, 1313, y, 1332, y, cColors[i], 1.6);
        text(ctx, n, 1339, y, "10.5px " + SANS, "#222");
      });
      ctx.restore();
    }
  };
  new Chart(canvas, {
    type: "line",
    data: { datasets },
    options: baseOptions(3, 6, 0.4, 1.0, { left: area.x0 - L, right: L + W - area.x1, top: area.y0 - T, bottom: T + H - area.y1 }),
    plugins: [cAxes]
  });
}

// ── PANELS G-K : STACKED BARS ─────────────────────
const barFill = ["#a5d8e6", "#8fc4b1", "#8a8ab0"];
const barText = ["#3f6f7f", "#1d6a4c", "#2a2c58"];

function buildBars(cfg) {
  const T = 1400, H = 421;
  const b = cfg.box;
  const L = b.x0 - 40, W = Math.min(1417, b.x1 + 95) - L;
  const canvas = makeCanvas(L, T, W, H);
  // ggplot: two bars of width 0.7 on a 0.4..2.6 discrete axis; the category
  // scale (offset) centres bars at 1/4 and 3/4 of its area, so inset the area.
  const unit = (b.x1 - b.x0) / 2.2;
  const areaL = b.x0 + 0.1 * unit, areaR = areaL + 2 * unit;
  const datasets = [];
  for (let k = cfg.levels.length - 1; k >= 0; k--) {
    datasets.push({
      label: cfg.levels[k],
      data: cfg.shares[k],
      backgroundColor: barFill[k], borderColor: "#ffffff", borderWidth: 1, borderSkipped: false,
      barThickness: 0.7 * unit, levelIndex: k
    });
  }
  const barDeco = {
    id: "barDeco",
    beforeDatasetsDraw(chart) {
      const ctx = chart.ctx;
      ctx.save(); ctx.translate(-L, -T);
      ctx.fillStyle = "#f8f7f7"; ctx.fillRect(b.x0, b.y0, b.x1 - b.x0, b.y1 - b.y0);
      ctx.restore();
    },
    afterDraw(chart) {
      const ctx = chart.ctx, xs = chart.scales.x, ys = chart.scales.y;
      ctx.save(); ctx.translate(-L, -T);
      const X = i => xs.getPixelForValue(i) + L, Y = v => ys.getPixelForValue(v) + T;
      ctx.strokeStyle = "#8a8a8a"; ctx.lineWidth = 1.2;
      ctx.strokeRect(b.x0 + 0.5, b.y0 + 0.5, b.x1 - b.x0 - 1, b.y1 - b.y0 - 1);
      [0, 25, 50, 75, 100].forEach(v => {
        line(ctx, b.x0 - 4, Y(v), b.x0, Y(v), "#444", 1);
        text(ctx, String(v), b.x0 - 6, Y(v), "9px " + SANS, "#555", "right");
      });
      riskGroups.forEach((g, j) => {
        line(ctx, X(j), b.y1, X(j), b.y1 + 4, "#444", 1);
        text(ctx, g, X(j), b.y1 + 9, "bold 10.5px " + SANS, "#444", "center");
        text(ctx, "(n=" + cfg.counts[j] + ")", X(j), b.y1 + 24, "9.5px " + SANS, "#555", "center");
      });
      text(ctx, "Percent weight", b.x0 - 26, Y(50), "11.5px " + SANS, "#111", "center", "middle", -Math.PI / 2);
      const cx = (b.x0 + b.x1) / 2;
      text(ctx, "Risk Score", cx, b.y0 - 27, "italic 12.5px " + SANS, "#222", "center");
      text(ctx, "TCGA", cx, b.y0 - 11, "italic 10.5px " + SANS, "#222", "center");
      chart.data.datasets.forEach((ds, di) => {
        const meta = chart.getDatasetMeta(di);
        meta.data.forEach((el, j) => {
          text(ctx, ds.data[j] + "%", el.x + L, (el.y + el.base) / 2 + T, "12px " + SANS, barText[ds.levelIndex], "center");
        });
      });
      const lx = b.x1 + 16, mid = (b.y0 + b.y1) / 2;
      const n = cfg.levels.length, sh = 15.5;
      const top0 = mid - (n * sh) / 2 + 4;
      text(ctx, cfg.legendTitle, lx, top0 - 11, "12px " + SANS, "#111");
      cfg.levels.forEach((lev, k) => {
        ctx.fillStyle = barFill[k];
        ctx.fillRect(lx, top0 + k * sh, 13, sh - 1.5);
        text(ctx, lev, lx + 19, top0 + k * sh + sh / 2, "9.5px " + SANS, "#333");
      });
      ctx.restore();
    }
  };
  const opts = baseOptions(0, 1, -5, 105, { left: areaL - L, right: L + W - areaR, top: b.y0 - T, bottom: T + H - b.y1 });
  opts.scales.x = { type: "category", display: false, offset: true, stacked: true };
  opts.scales.y.stacked = true;
  new Chart(canvas, { type: "bar", data: { labels: riskGroups, datasets }, options: opts, plugins: [barDeco] });
}

// ── BUILD PAGE ───────────────────────────────
buildNomogram();
buildHeatmap();
buildRoc(20, 370, 47, 305, [rocC_risk, rocC_nomo, rocC_age, rocC_gender, rocC_stage, rocC_t], rocAucC, [4, 4, 4.5, 4, 4, 4]);
buildRoc(380, 360, 407, 666, [rocD_risk, rocD_nomo, rocD_age, rocD_gender, rocD_stage, rocD_t], rocAucD, [4, 4, 2, 4, 4, 4]);
buildRoc(730, 360, 756, 1014, [rocE_risk, rocE_nomo, rocE_age, rocE_gender, rocE_stage, rocE_t], rocAucE, [4, 4, 4.5, 4, 4, 4]);
buildConcordance();
buildBars({ box: { x0: 38, x1: 196, y0: 1498, y1: 1774 }, levels: ageLevelsG, shares: ageShareG, counts: ageCountG, legendTitle: "Age" });
buildBars({ box: { x0: 312, x1: 452, y0: 1499, y1: 1783 }, levels: stageLevelsH, shares: stageShareH, counts: stageCountH, legendTitle: "Stage" });
buildBars({ box: { x0: 587, x1: 749, y0: 1496, y1: 1790 }, levels: mLevelsI, shares: mShareI, counts: mCountI, legendTitle: "M" });
buildBars({ box: { x0: 863, x1: 1022, y0: 1492, y1: 1790 }, levels: nLevelsJ, shares: nShareJ, counts: nCountJ, legendTitle: "N" });
buildBars({ box: { x0: 1163, x1: 1339, y0: 1489, y1: 1793 }, levels: tLevelsK, shares: tShareK, counts: tCountK, legendTitle: "T" });

[["A", 33, 17], ["B", 33, 703], ["C", 1019, 33], ["D", 1019, 390], ["E", 1019, 718], ["F", 1019, 1098],
 ["G", 49, 1428], ["H", 339, 1428], ["I", 601, 1427], ["J", 886, 1427], ["K", 1189, 1427]].forEach(l => addLetter(l[0], l[1], l[2]));
</script>
</body>
</html>
